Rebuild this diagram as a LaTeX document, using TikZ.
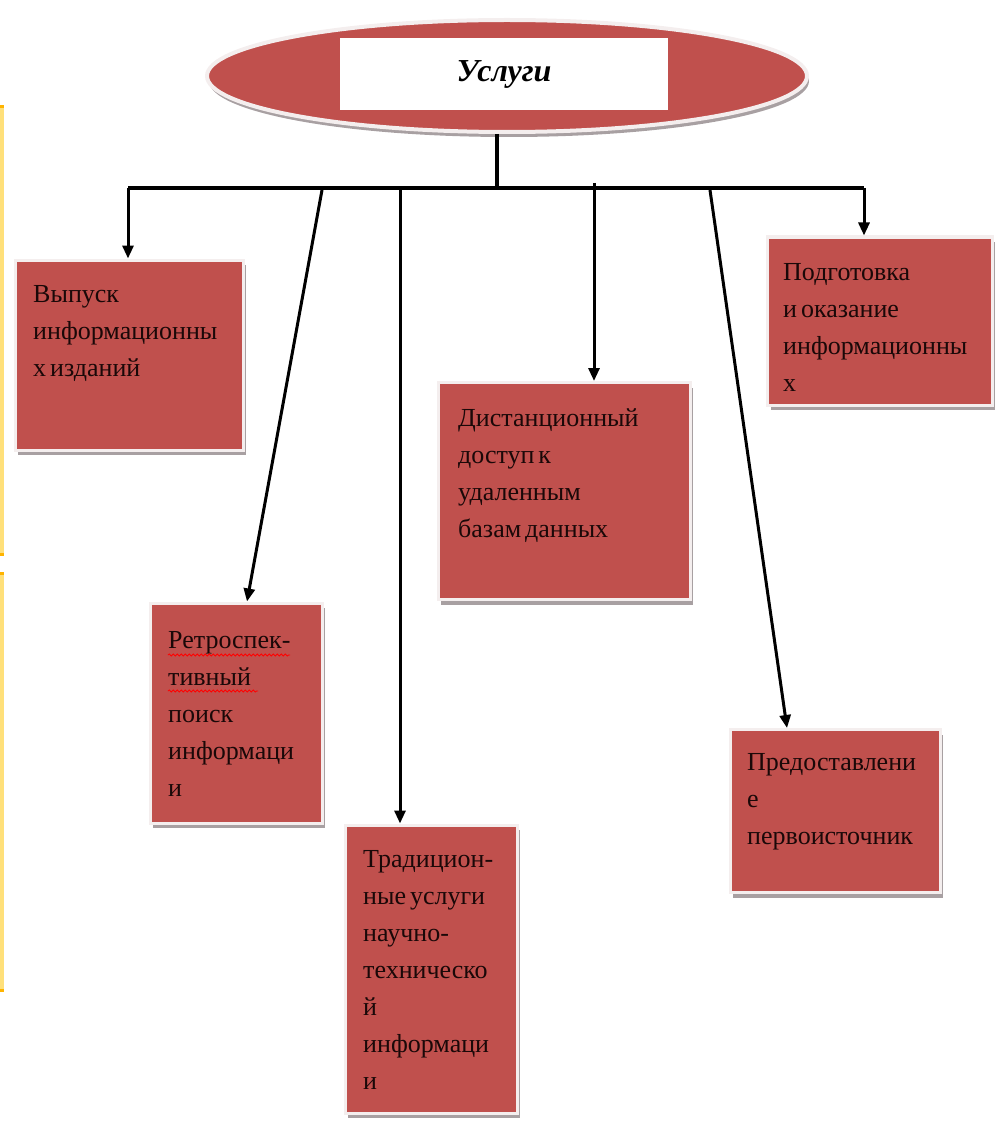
\documentclass[tikz,border=0pt]{standalone}
\usepackage{fontspec}
\setmainfont{Liberation Serif}
\newfontfamily\bxfam[WordSpace=0.6]{Liberation Serif}
\usetikzlibrary{shapes.geometric,arrows.meta,shadows,calc,decorations.pathmorphing}
\definecolor{boxred}{HTML}{C0504D}
\definecolor{rim}{HTML}{F4EEEE}
\definecolor{shade}{HTML}{A8A0A2}
\definecolor{ystrip}{HTML}{FFE07A}
\definecolor{ocap}{HTML}{FFB400}
\definecolor{ink}{HTML}{1A0808}
\begin{document}
\begin{tikzpicture}[x=1pt,y=-1pt,
  box/.style={draw=rim, line width=3pt, fill=boxred, inner sep=0pt,
    drop shadow={shadow xshift=3pt, shadow yshift=-5pt, fill=shade, opacity=1}},
  txt/.style={anchor=base west, text width=260pt, align=flush left, inner sep=0pt,
    font=\bxfam\fontsize{26}{37}\selectfont, text=ink},
  ln/.style={line width=3.2pt, draw=black},
  bar/.style={line width=4pt, draw=black},
  arr/.style={line width=3pt, draw=black, -{Triangle[length=13pt,width=11pt]}},
  wavy/.style={draw=red, line width=0.8pt, decorate, decoration={snake, amplitude=1.1pt, segment length=4pt}}]
\path[use as bounding box] (0,0) rectangle (994,1123);
% yellow strips at left edge
\fill[ystrip] (0,105) rectangle (4,556);
\fill[ocap] (0,105) rectangle (4,108);
\fill[ocap] (0,553) rectangle (4,556);
\fill[ystrip] (0,572) rectangle (4,992);
\fill[ocap] (0,572) rectangle (4,575);
\fill[ocap] (0,989) rectangle (4,992);
% top ellipse
\node[ellipse, fill=boxred, draw=rim, line width=4pt, minimum width=600pt, minimum height=112pt,
  drop shadow={shadow xshift=2pt, shadow yshift=-5pt, fill=shade, opacity=1}] (top) at (507,76) {};
\node[fill=white, minimum width=328pt, minimum height=72pt, inner sep=0pt] (title) at (504,74)
  {\fontsize{32}{38}\selectfont\bfseries\itshape Услуги};
% boxes
\node[box, minimum width=228pt, minimum height=190pt] (b1) at (129,355) {};
\node[box, minimum width=172pt, minimum height=220pt] (b2) at (236,713) {};
\node[box, minimum width=172pt, minimum height=288pt] (b3) at (431,969) {};
\node[box, minimum width=252pt, minimum height=217pt] (b4) at (564,491) {};
\node[box, minimum width=225pt, minimum height=168pt] (b5) at (880,321) {};
\node[box, minimum width=210pt, minimum height=163pt] (b6) at (835,811) {};
% texts
\node[txt] (t1) at (33,302) {Выпуск\\информационны\\х изданий};
\node[txt] (t2) at (168,648) {Ретроспек-\\тивный\\поиск\\информаци\\и};
\node[txt] (t3) at (363,867) {Традицион-\\ные услуги\\научно-\\техническо\\й\\информаци\\и};
\node[txt] (t4) at (458,426) {Дистанционный\\доступ к\\удаленным\\базам данных};
\node[txt] (t5) at (783,280) {Подготовка\\и оказание\\информационны\\х};
\node[txt] (t6) at (747,770) {Предоставлени\\е\\первоисточник};
% spell-check underlines
\draw[wavy] (168,655) -- (290,655);
\draw[wavy] (168,691) -- (258,691);
% connectors
\coordinate (hub) at (497,188);
\coordinate (tl) at (128,188);
\coordinate (tr) at (864,188);
\coordinate (s2) at (322,190);
\coordinate (s3) at (400,190);
\coordinate (s4) at (594,183);
\coordinate (s5) at (710,190);
\draw[ln] (hub |- top.south) -- (hub);
\draw[bar] (tl) -- (tr);
\draw[arr] (tl) -- (tl |- b1.north);
\draw[arr] (s2) -- ($(b2.north)+(11,0)$);
\draw[arr] (s3) -- (s3 |- b3.north);
\draw[arr] (s4) -- (s4 |- b4.north);
\draw[arr] (s5) -- ($(b6.north)+(-48,0)$);
\draw[arr] (tr) -- (tr |- b5.north);
\end{tikzpicture}
\end{document}
